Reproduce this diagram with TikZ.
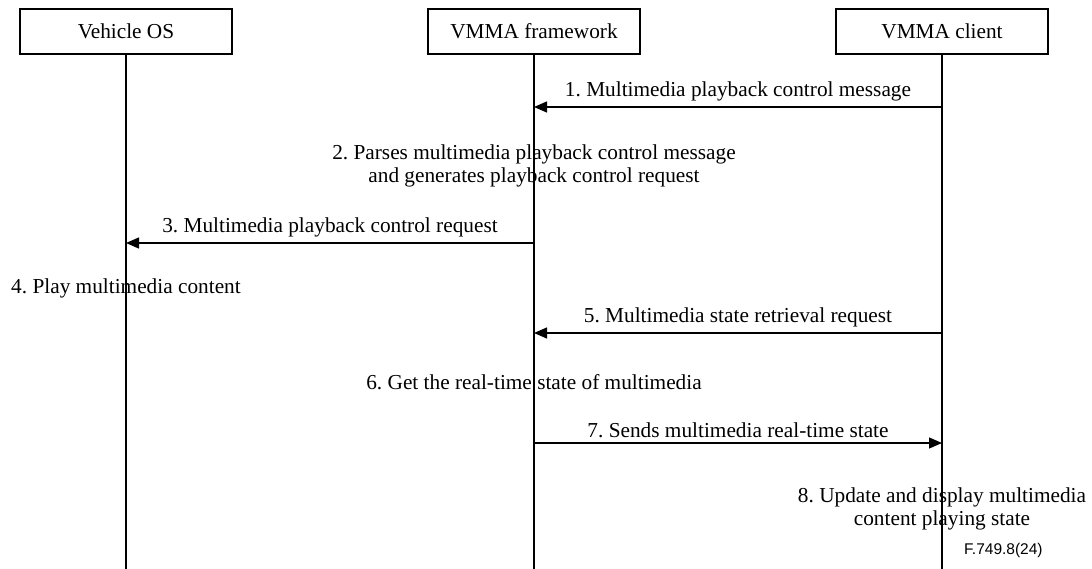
\documentclass[tikz,border=0pt]{standalone}
\usepackage{fontspec}
\setmainfont{Liberation Serif}
\newfontfamily\figfont{Liberation Sans}
\usetikzlibrary{arrows.meta}
\frenchspacing
\begin{document}
\begin{tikzpicture}[x=1pt,y=-1pt,
  actor/.style={draw,line width=1.2pt,minimum width=212pt,minimum height=45pt,inner sep=0pt,font=\fontsize{21.3}{23}\selectfont},
  life/.style={line width=1.3pt},
  msg/.style={line width=1.3pt,-{Triangle[length=13pt,width=11pt]}},
  lbl/.style={font=\fontsize{21.3}{23}\selectfont,inner sep=0pt,align=center},
  note/.style={font=\fontsize{21.3}{22.5}\selectfont,inner sep=0pt,align=center}]
\useasboundingbox (0,0) rectangle (1092,569);
% actors
\node[actor] (vos) at (126,31.5) {Vehicle OS};
\node[actor] (fw) at (534,31.5) {VMMA framework};
\node[actor] (cl) at (942,31.5) {VMMA client};
% lifeline ends
\coordinate (vosE) at (126,569);
\coordinate (fwE) at (534,569);
\coordinate (clE) at (942,569);
\draw[life] (vos.south) -- (vosE);
\draw[life] (fw.south) -- (fwE);
\draw[life] (cl.south) -- (clE);
% message anchor points
\coordinate (c1) at (942,107); \coordinate (f1) at (534,107);
\coordinate (f3) at (534,243); \coordinate (v3) at (126,243);
\coordinate (c5) at (942,333); \coordinate (f5) at (534,333);
\coordinate (f7) at (534,443); \coordinate (c7) at (942,443);
% messages
\draw[msg] (c1) -- (f1) node[lbl,midway,above=5pt] (m1) {1. Multimedia playback control message};
\node[note] (m2) at (534,166) {2. Parses multimedia playback control message\\and generates playback control request};
\draw[msg] (f3) -- (v3) node[lbl,midway,above=5pt] (m3) {3. Multimedia playback control request};
\node[note] (m4) at (126,288) {4. Play multimedia content};
\draw[msg] (c5) -- (f5) node[lbl,midway,above=5pt] (m5) {5. Multimedia state retrieval request};
\node[note] (m6) at (534,382) {6. Get the real-time state of multimedia};
\draw[msg] (f7) -- (c7) node[lbl,midway,above=5pt] (m7) {7. Sends multimedia real-time state};
\node[note] (m8) at (942,509) {8. Update and display multimedia\\content playing state};
\node[font=\figfont\fontsize{15.5}{17}\selectfont,inner sep=0pt,anchor=west] (fig) at (964,550) {F.749.8(24)};
\end{tikzpicture}
\end{document}
